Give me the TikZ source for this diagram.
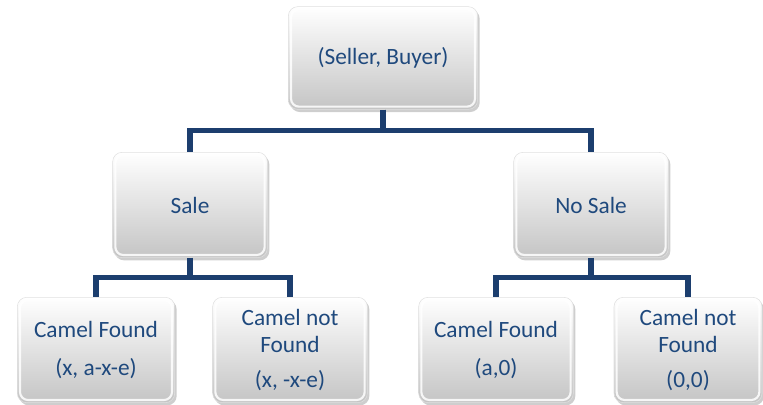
\documentclass[tikz,border=0pt]{standalone}
\usepackage{fontspec}
\setmainfont{Carlito}
\usepackage{tikz}
\usetikzlibrary{shadows}
\definecolor{linkblue}{RGB}{28,62,110}
\definecolor{textblue}{RGB}{31,73,125}

\begin{document}
\begin{tikzpicture}[
    x=0.75pt, y=-0.75pt,
    box/.style={rectangle, rounded corners=7pt, draw=black!12, line width=0.4pt,
        top color=white, bottom color=black!23, minimum width=116pt, minimum height=79pt,
        align=center, text=textblue, font=\fontsize{17.5}{20}\selectfont,
        drop shadow={shadow xshift=1.5pt, shadow yshift=-2pt, opacity=0.35, fill=black!55},
        path picture={\draw[white, opacity=0.85, line width=1.6pt, rounded corners=6pt]
            ([shift={(2pt,-2pt)}]path picture bounding box.north west) rectangle
            ([shift={(-2pt,2pt)}]path picture bounding box.south east);}},
    link/.style={draw=linkblue, line width=3.8pt, line join=miter}
]
    \useasboundingbox (0,0) rectangle (763,404);

    \node[box, minimum width=142pt, minimum height=77pt] (SB) at (383,58) {(Seller, Buyer)};

    \node[box] (S) at (190,205) {Sale};
    \node[box] (NS) at (591,205) {No Sale};

    \node[box, minimum width=118pt] (SF) at (96,350) {Camel Found\\[8pt](x, a-x-e)};
    \node[box] (SN) at (290,350) {Camel not\\Found\\[6pt](x, -x-e)};
    \node[box] (NF) at (496,350) {Camel Found\\[8pt](a,0)};
    \node[box, minimum width=111pt] (NN) at (688,350) {Camel not\\Found\\[6pt](0,0)};

    % elbow links, parent down then across
    \draw[link] (SB.south) -- ++(0,21) -| (S.north);
    \draw[link] (SB.south) -- ++(0,21) -| (NS.north);
    \draw[link] (S.south) -- ++(0,20) -| (SF.north);
    \draw[link] (S.south) -- ++(0,20) -| (SN.north);
    \draw[link] (NS.south) -- ++(0,20) -| (NF.north);
    \draw[link] (NS.south) -- ++(0,20) -| (NN.north);
\end{tikzpicture}
\end{document}
